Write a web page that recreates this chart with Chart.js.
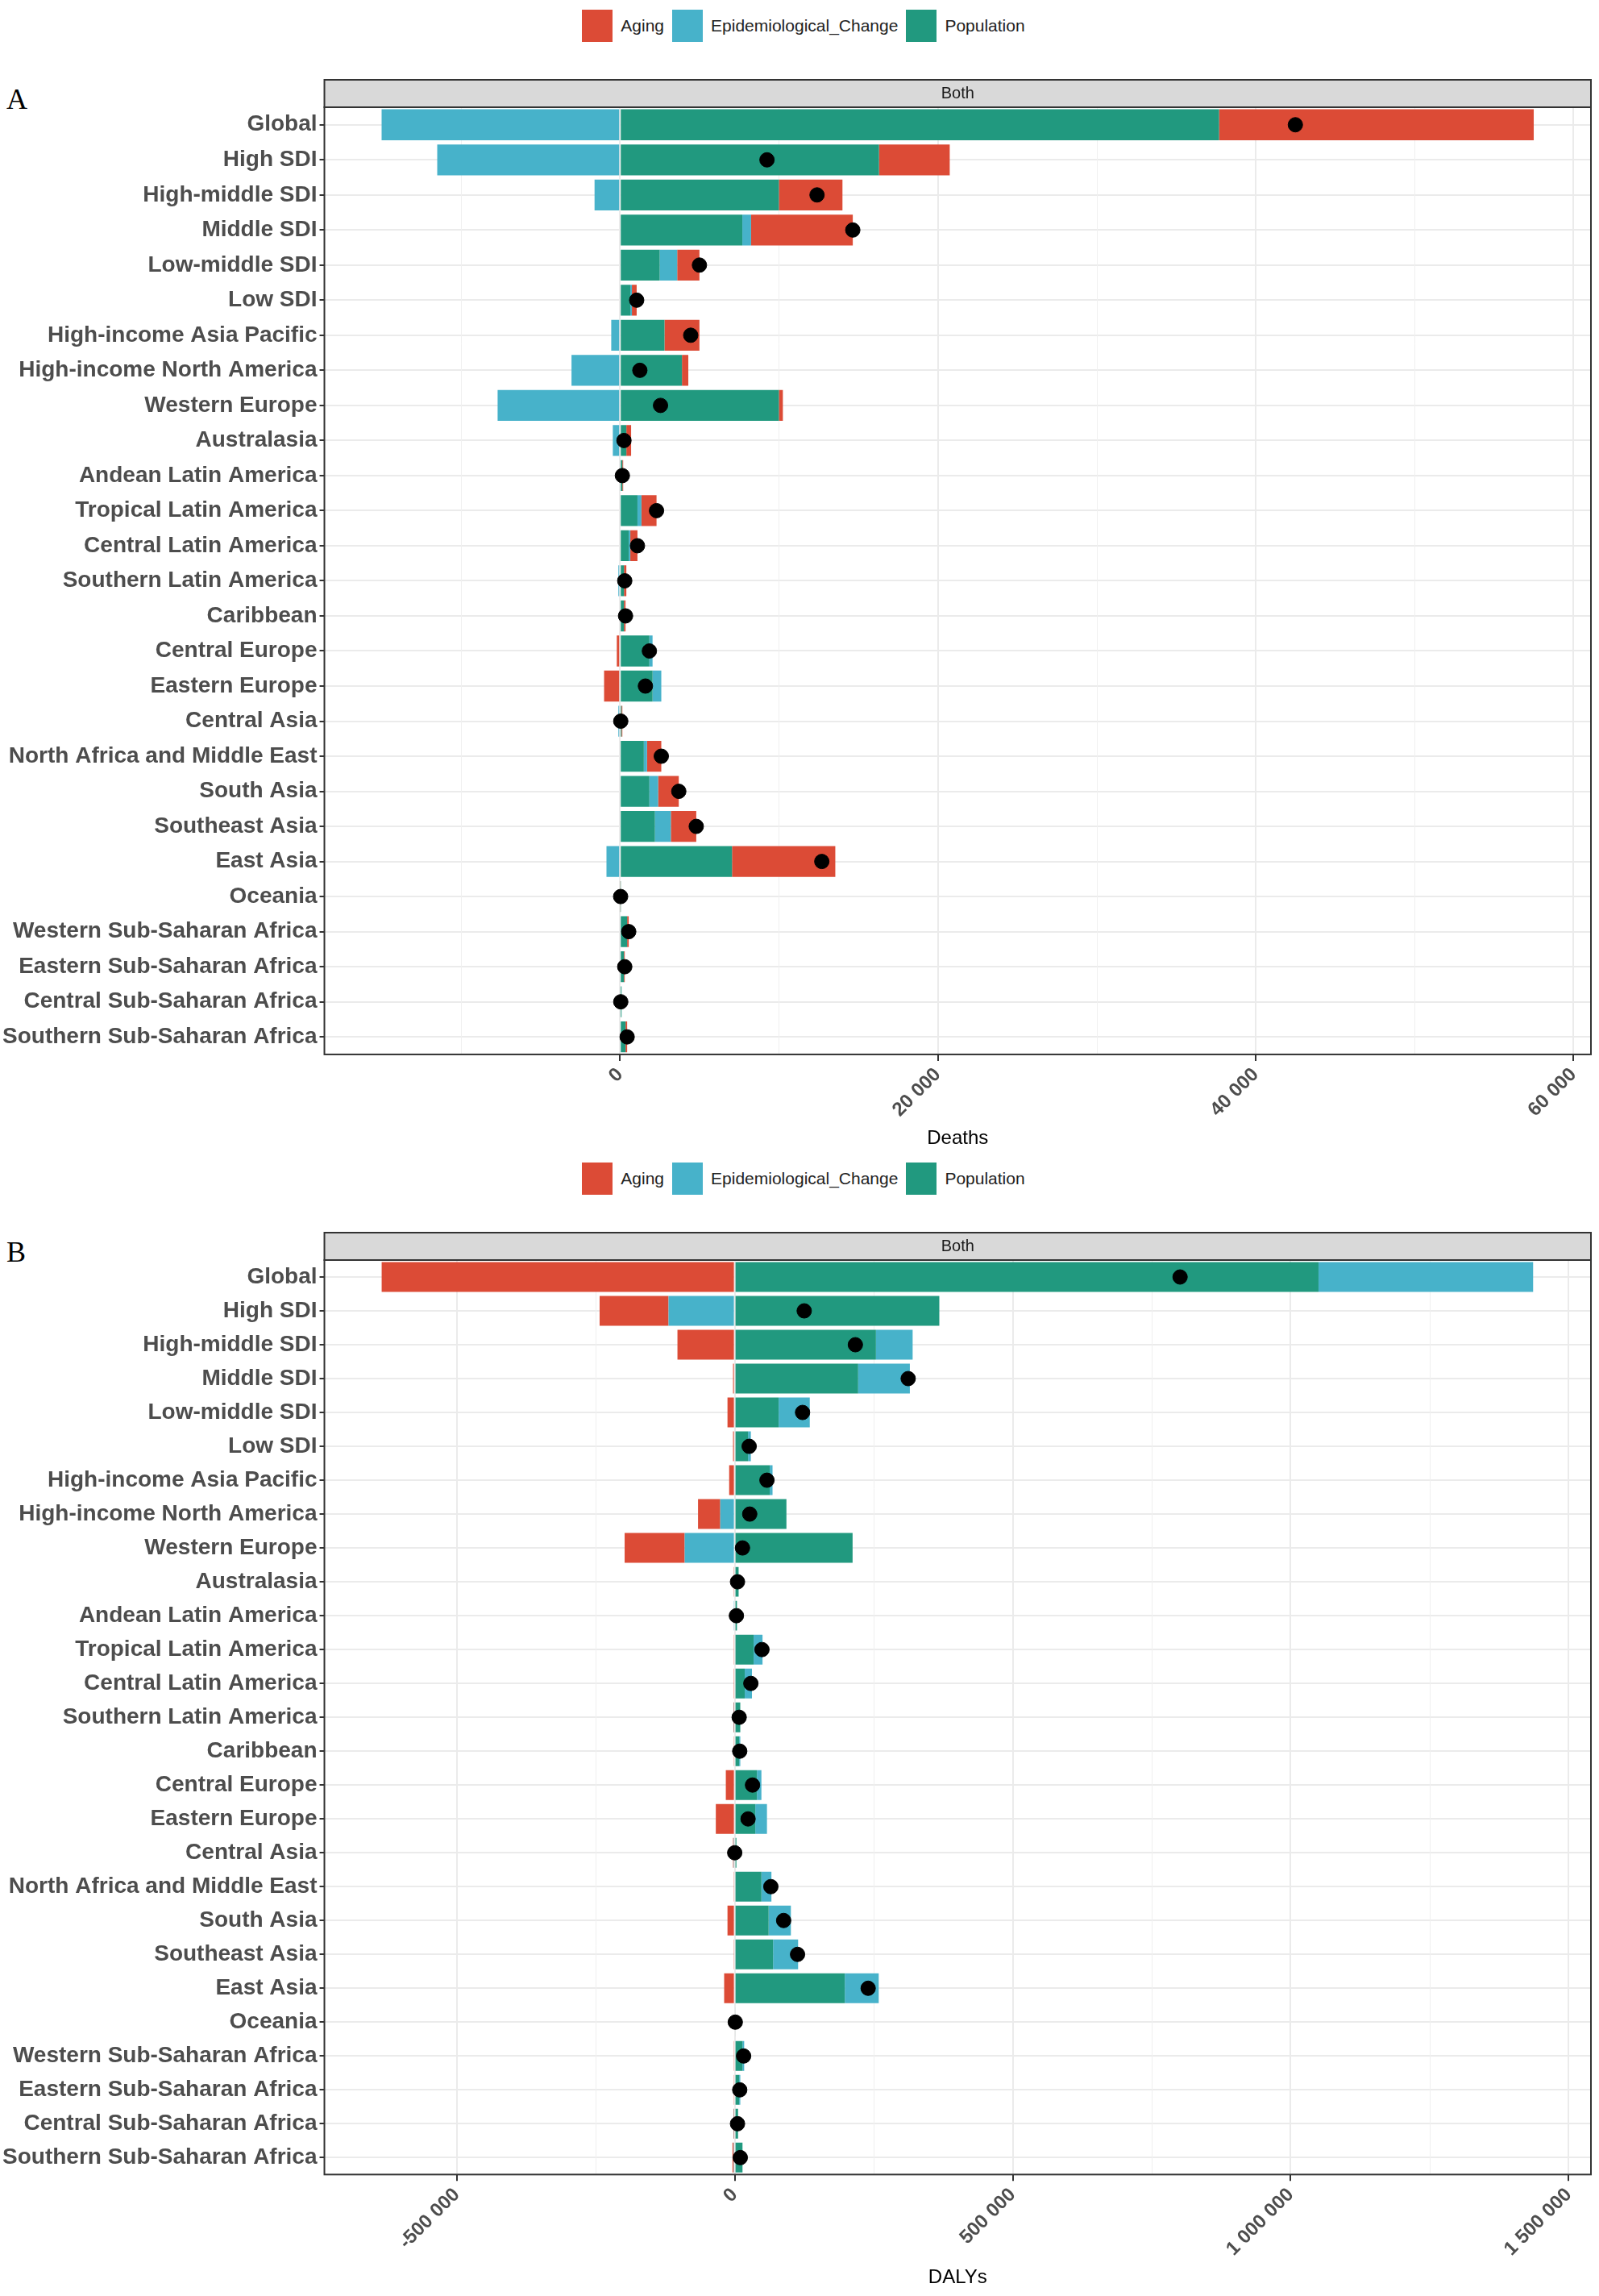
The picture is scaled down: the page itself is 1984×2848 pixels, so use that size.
<!DOCTYPE html>
<html><head><meta charset="utf-8">
<script src="https://cdn.jsdelivr.net/npm/chart.js@4"></script>
<style>
body{margin:0;background:#fff;width:1984px;height:2848px;position:relative;font-family:"Liberation Sans",Arial,sans-serif;}
.leg{position:absolute;left:0;width:1984px;display:flex;justify-content:center;align-items:center;font-size:21px;color:#222;}
.leg span.k{display:inline-block;width:38px;height:40px;margin:0 10px 0 10px;}
.lab{position:absolute;left:8px;font-family:"Liberation Serif",serif;font-size:36px;color:#000;}
.wrap{position:absolute;left:0;width:1984px;}
</style></head><body>
<div class="leg" style="top:10px;height:44px"><span class="k" style="background:#DC4B36"></span>Aging<span class="k" style="background:#47B2CA"></span>Epidemiological_Change<span class="k" style="background:#21997F"></span>Population</div>
<div class="lab" style="top:102px">A</div>
<div class="wrap" style="top:95px;height:1340px"><canvas id="c1"></canvas></div>
<div class="leg" style="top:1440px;height:44px"><span class="k" style="background:#DC4B36"></span>Aging<span class="k" style="background:#47B2CA"></span>Epidemiological_Change<span class="k" style="background:#21997F"></span>Population</div>
<div class="lab" style="top:1532px">B</div>
<div class="wrap" style="top:1525px;height:1323px"><canvas id="c2"></canvas></div>
<script>
const categories=["Global","High SDI","High-middle SDI","Middle SDI","Low-middle SDI","Low SDI","High-income Asia Pacific","High-income North America","Western Europe","Australasia","Andean Latin America","Tropical Latin America","Central Latin America","Southern Latin America","Caribbean","Central Europe","Eastern Europe","Central Asia","North Africa and Middle East","South Asia","Southeast Asia","East Asia","Oceania","Western Sub-Saharan Africa","Eastern Sub-Saharan Africa","Central Sub-Saharan Africa","Southern Sub-Saharan Africa"];
const deathsPopulation=[37700,16300,10000,7700,2500,650,2800,3900,10000,400,150,1100,550,250,250,1850,2050,100,1500,1850,2200,7050,30,450,250,100,350];
const deathsEpi=[-15000,-11500,-1600,550,1100,100,-550,-3050,-7700,-450,-50,250,100,-100,0,200,550,-100,200,550,1000,-850,0,0,0,-50,0];
const deathsAging=[19800,4450,4000,6400,1400,300,2200,400,250,300,50,950,450,150,100,-200,-1000,50,900,1300,1600,6500,10,100,50,0,100];
const deathsTotal=[42500,9250,12400,14650,5000,1050,4450,1250,2550,250,150,2300,1100,300,350,1850,1600,50,2600,3700,4800,12700,40,550,300,50,450];
const deathsTicks=[0,20000,40000,60000];
const deathsMinor=[-10000,10000,30000,50000];
const dalyPopulation=[1050000,368000,254000,222000,79000,24000,63000,93000,212000,7000,4000,34000,18000,10000,8000,40000,37000,3000,48000,61000,69000,198000,1500,14000,8000,6000,14000];
const dalyEpi=[386000,-119000,66000,93000,56000,5000,5000,-26000,-90000,-1500,-1000,16000,13000,-1000,2000,8000,21000,-2000,18000,40000,45000,61000,0,3000,2000,-1000,-2000];
const dalyAging=[-635000,-124000,-103000,-3000,-13000,-3000,-10000,-40000,-108000,-500,0,-1000,-2000,-1000,-1000,-16000,-34000,-1000,-1000,-13000,-1000,-19000,0,-1000,-1000,-1000,-2000];
const dalyTotal=[801000,125000,217000,312000,122000,26000,58000,27000,14000,5000,3000,49000,29000,8000,9000,32000,24000,0,65000,88000,113000,240000,1000,16000,9000,5000,10000];
const dalyTicks=[-500000,0,500000,1000000,1500000];
const dalyMinor=[-250000,250000,750000,1250000];

const COL={aging:"#DC4B36",epi:"#47B2CA",pop:"#21997F"};
function fmt(v){const s=Math.abs(v).toString().replace(/\B(?=(\d{3})+(?!\d))/g," ");return (v<0?"-":"")+s;}
const stripPlugin={id:"strip",
 beforeDatasetsDraw(ch){const a=ch.chartArea,c=ch.ctx,x=ch.scales.x;c.save();c.strokeStyle="#f0f0f0";c.lineWidth=1;
  (ch.options.minorTicks||[]).forEach(v=>{const p=Math.round(x.getPixelForValue(v))+0.5;c.beginPath();c.moveTo(p,a.top);c.lineTo(p,a.bottom);c.stroke();});c.restore();},
 afterDraw(ch){const a=ch.chartArea,c=ch.ctx;c.save();
 c.fillStyle="#d9d9d9";c.fillRect(a.left,a.top-34,a.right-a.left,34);
 c.strokeStyle="#333";c.lineWidth=2;c.strokeRect(a.left,a.top-34,a.right-a.left,34);
 c.strokeRect(a.left,a.top,a.right-a.left,a.bottom-a.top);
 c.fillStyle="#1a1a1a";c.font="20px 'Liberation Sans'";c.textAlign="center";c.textBaseline="middle";c.fillText("Both",(a.left+a.right)/2,a.top-17);c.restore();}};
function make(id,pop,epi,aging,total,min,max,majors,minors,title){
 new Chart(document.getElementById(id),{type:"bar",
  data:{labels:categories,datasets:[
   {type:"scatter",label:"Total",data:total.map((v,i)=>({x:v,y:categories[i]})),backgroundColor:"#000",borderColor:"#000",pointRadius:9,order:-1},
   {label:"Population",data:pop,backgroundColor:COL.pop,stack:"s"},
   {label:"Epidemiological_Change",data:epi,backgroundColor:COL.epi,stack:"s"},
   {label:"Aging",data:aging,backgroundColor:COL.aging,stack:"s"}]},
  options:{indexAxis:"y",responsive:true,maintainAspectRatio:false,animation:false,minorTicks:minors,
   layout:{padding:{top:38,right:2,left:0,bottom:4}},
   plugins:{legend:{display:false},tooltip:{enabled:false}},
   datasets:{bar:{categoryPercentage:0.88,barPercentage:1}},
   scales:{
    x:{type:"linear",stacked:true,min:min,max:max,
     afterBuildTicks:(s)=>{s.ticks=majors.map(v=>({value:v}));},
     ticks:{autoSkip:false,minRotation:45,maxRotation:45,color:"#4d4d4d",font:{size:24,weight:"bold",family:"Liberation Sans"},
       callback:(v)=>fmt(v)},
     grid:{color:"#ebebeb",lineWidth:2,tickLength:8,tickColor:"#333"},
     border:{display:false},
     title:{display:true,text:title,color:"#000",font:{size:24,family:"Liberation Sans"}}},
    y:{type:"category",stacked:true,offset:true,
     ticks:{color:"#4d4d4d",font:{size:28,weight:"bold",family:"Liberation Sans"}},
     grid:{offset:false,color:"#ebebeb",lineWidth:2,tickLength:6,tickColor:"#333"},border:{display:false}}}},
  plugins:[stripPlugin]});
}
make("c1",deathsPopulation,deathsEpi,deathsAging,deathsTotal,-18600,61100,deathsTicks,deathsMinor,"Deaths");
make("c2",dalyPopulation,dalyEpi,dalyAging,dalyTotal,-738000,1540000,dalyTicks,dalyMinor,"DALYs");
</script></body></html>
